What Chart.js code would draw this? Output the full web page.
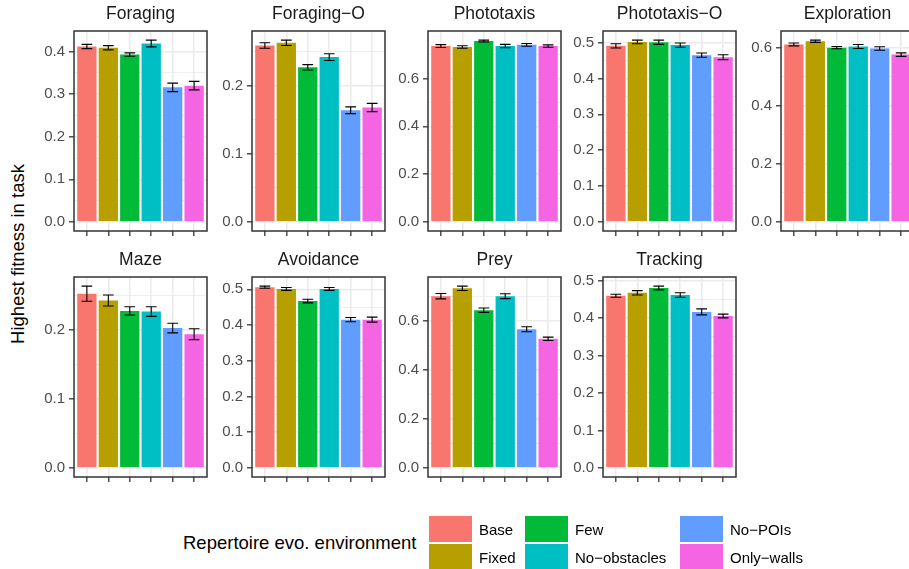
<!DOCTYPE html>
<html>
<head>
<meta charset="utf-8">
<script src="https://cdn.jsdelivr.net/npm/chart.js"></script>
<style>
  html, body { margin: 0; padding: 0; background: #fff; overflow: hidden; }
  body { width: 909px; height: 569px; position: relative; font-family: 'Liberation Sans', Arial, sans-serif; }
  canvas { position: absolute; }
  #ytitle { position: absolute; left: 18px; top: 254px; transform: translate(-50%, -50%) rotate(-90deg);
            font-size: 18.5px; color: #000; white-space: nowrap; }
  #legtitle { position: absolute; left: 183px; top: 543px; transform: translateY(-50%); font-size: 18.5px; white-space: nowrap; }
  .key { position: absolute; width: 43px; height: 26px; }
  .keylab { position: absolute; font-size: 15px; color: #000; transform: translateY(-50%); white-space: nowrap; }
</style>
</head>
<body>
<div id="ytitle">Highest fitness in task</div>
<div id="legtitle">Repertoire evo. environment</div>

<script>
// facets and groups
const tasks = ['Foraging', 'Foraging\u2212O', 'Phototaxis', 'Phototaxis\u2212O', 'Exploration',
               'Maze', 'Avoidance', 'Prey', 'Tracking'];
const envs = ['Base', 'Fixed', 'Few', 'No\u2212obstacles', 'No\u2212POIs', 'Only\u2212walls'];
const envColors = ['#F8766D', '#B79F00', '#00BA38', '#00BFC4', '#619CFF', '#F564E3'];

// mean highest fitness and standard error, one array per task (order = envs)
const foragingMean    = [0.412, 0.409, 0.393, 0.419, 0.316, 0.320];
const foragingSe      = [0.005, 0.005, 0.004, 0.008, 0.010, 0.010];
const foragingOMean   = [0.259, 0.263, 0.227, 0.242, 0.164, 0.168];
const foragingOSe     = [0.004, 0.004, 0.004, 0.005, 0.005, 0.006];
const phototaxisMean  = [0.736, 0.732, 0.757, 0.736, 0.741, 0.736];
const phototaxisSe    = [0.006, 0.005, 0.004, 0.007, 0.006, 0.005];
const phototaxisOMean = [0.491, 0.502, 0.501, 0.493, 0.465, 0.459];
const phototaxisOSe   = [0.006, 0.005, 0.006, 0.006, 0.006, 0.007];
const explorationMean = [0.612, 0.623, 0.601, 0.605, 0.598, 0.577];
const explorationSe   = [0.005, 0.004, 0.004, 0.007, 0.006, 0.006];
const mazeMean        = [0.253, 0.243, 0.228, 0.227, 0.203, 0.194];
const mazeSe          = [0.011, 0.008, 0.006, 0.007, 0.007, 0.008];
const avoidanceMean   = [0.506, 0.501, 0.467, 0.501, 0.415, 0.415];
const avoidanceSe     = [0.003, 0.004, 0.005, 0.004, 0.006, 0.007];
const preyMean        = [0.700, 0.732, 0.643, 0.700, 0.565, 0.526];
const preySe          = [0.011, 0.009, 0.009, 0.010, 0.010, 0.007];
const trackingMean    = [0.460, 0.468, 0.481, 0.462, 0.417, 0.406];
const trackingSe      = [0.004, 0.006, 0.005, 0.006, 0.008, 0.005];

// y tick label spacing per facet
const tickSteps = [0.1, 0.1, 0.2, 0.1, 0.2, 0.1, 0.1, 0.2, 0.1];

const means = [foragingMean, foragingOMean, phototaxisMean, phototaxisOMean, explorationMean,
               mazeMean, avoidanceMean, preyMean, trackingMean];
const errs = [foragingSe, foragingOSe, phototaxisSe, phototaxisOSe, explorationSe,
              mazeSe, avoidanceSe, preySe, trackingSe];

// layout
const panelLeft = [74, 252, 428, 603, 781];
const panelTop = [31, 277];
const PANEL_W = 133, PANEL_H = 200;
const AXIS_W = 45, TITLE_H = 27, XAXIS_H = 8, PAD_R = 3;

Chart.defaults.font.family = "'Liberation Sans', Arial, sans-serif";

const errorBars = {
  id: 'errorBars',
  afterDatasetsDraw(chart, args, opts) {
    const ctx = chart.ctx, xs = chart.scales.x, ys = chart.scales.y;
    const m = opts.mean, e = opts.err;
    ctx.save();
    ctx.strokeStyle = '#000';
    ctx.lineWidth = 1.1;
    for (let i = 0; i < m.length; i++) {
      const x = xs.getPixelForValue(i + 1);
      const x0 = xs.getPixelForValue(i + 0.75), x1 = xs.getPixelForValue(i + 1.25);
      const yt = ys.getPixelForValue(m[i] + e[i]), yb = ys.getPixelForValue(m[i] - e[i]);
      ctx.beginPath();
      ctx.moveTo(x0, yt); ctx.lineTo(x1, yt);
      ctx.moveTo(x0, yb); ctx.lineTo(x1, yb);
      ctx.moveTo(x, yt); ctx.lineTo(x, yb);
      ctx.stroke();
    }
    ctx.restore();
  }
};

const panelBorder = {
  id: 'panelBorder',
  afterDraw(chart) {
    const a = chart.chartArea, ctx = chart.ctx;
    ctx.save();
    ctx.strokeStyle = '#333333';
    ctx.lineWidth = 1.5;
    ctx.strokeRect(a.left, a.top, a.right - a.left, a.bottom - a.top);
    ctx.restore();
  }
};

function makePanel(k) {
  var col = k % 5, row = Math.floor(k / 5);
  var canvas = document.createElement('canvas');
  canvas.width = AXIS_W + PANEL_W + PAD_R;
  canvas.height = TITLE_H + PANEL_H + XAXIS_H;
  canvas.style.left = (panelLeft[col] - AXIS_W) + 'px';
  canvas.style.top = (panelTop[row] - TITLE_H) + 'px';
  document.body.appendChild(canvas);

  var m = means[k], e = errs[k], step = tickSteps[k];
  var top = Math.max.apply(null, m.map(function (v, i) { return v + e[i]; }));
  var yMin = -0.05 * top, yMax = 1.05 * top;
  var isMajor = function (v) { return Math.abs(v / step - Math.round(v / step)) < 1e-6; };

  new Chart(canvas, {
    type: 'bar',
    data: {
      datasets: [{
        data: m.map(function (v, i) { return { x: i + 1, y: v }; }),
        backgroundColor: envColors,
        borderWidth: 0,
        barPercentage: 0.9,
        categoryPercentage: 1.0
      }]
    },
    options: {
      responsive: false,
      animation: false,
      layout: { padding: { left: 0, right: PAD_R, top: 0, bottom: 0 } },
      plugins: {
        legend: { display: false },
        tooltip: { enabled: false },
        title: {
          display: true,
          fullSize: false,
          text: tasks[k],
          color: '#1A1A1A',
          font: { size: 17.5, weight: 'normal', lineHeight: 1.2 },
          padding: { top: 0, bottom: 6 }
        },
        errorBars: { mean: m, err: e }
      },
      scales: {
        x: {
          type: 'linear',
          min: 0.4,
          max: 6.6,
          offset: false,
          afterBuildTicks: function (s) { s.ticks = envs.map(function (n, i) { return { value: i + 1 }; }); },
          afterFit: function (s) { s.height = XAXIS_H; },
          ticks: { display: false },
          border: { display: false },
          grid: { offset: false, color: '#EBEBEB', lineWidth: 1.6, tickColor: '#333333', tickWidth: 1.3, tickLength: 5 }
        },
        y: {
          type: 'linear',
          min: yMin,
          max: yMax,
          afterBuildTicks: function (s) {
            var t = [];
            for (var i = 0; i * step / 2 <= yMax; i++) t.push({ value: Math.round(i * step / 2 * 1e6) / 1e6 });
            s.ticks = t;
          },
          afterFit: function (s) { s.width = AXIS_W; s.paddingTop = 0; s.paddingBottom = 0; },
          ticks: {
            autoSkip: false,
            padding: 4,
            color: '#4D4D4D',
            font: { size: 15 },
            callback: function (v) { return isMajor(v) ? v.toFixed(1) : ''; }
          },
          border: { display: false },
          grid: {
            color: '#EBEBEB',
            lineWidth: function (c) { return isMajor(c.tick.value) ? 1.6 : 0.8; },
            tickColor: function (c) { return isMajor(c.tick.value) ? '#333333' : 'rgba(0,0,0,0)'; },
            tickWidth: 1.3,
            tickLength: 5
          }
        }
      }
    },
    plugins: [errorBars, panelBorder]
  });
}

for (var k = 0; k < tasks.length; k++) makePanel(k);

// legend: 3 columns x 2 rows, filled column-wise
var keyLeft = [429, 525, 680];
var keyTop = [516, 544];
envs.forEach(function (name, i) {
  var col = Math.floor(i / 2), row = i % 2;
  var box = document.createElement('div');
  box.className = 'key';
  box.style.left = keyLeft[col] + 'px';
  box.style.top = keyTop[row] + 'px';
  box.style.background = envColors[i];
  document.body.appendChild(box);
  var lab = document.createElement('div');
  lab.className = 'keylab';
  lab.textContent = name;
  lab.style.left = (keyLeft[col] + 50) + 'px';
  lab.style.top = (keyTop[row] + 13) + 'px';
  document.body.appendChild(lab);
});
</script>
</body>
</html>
